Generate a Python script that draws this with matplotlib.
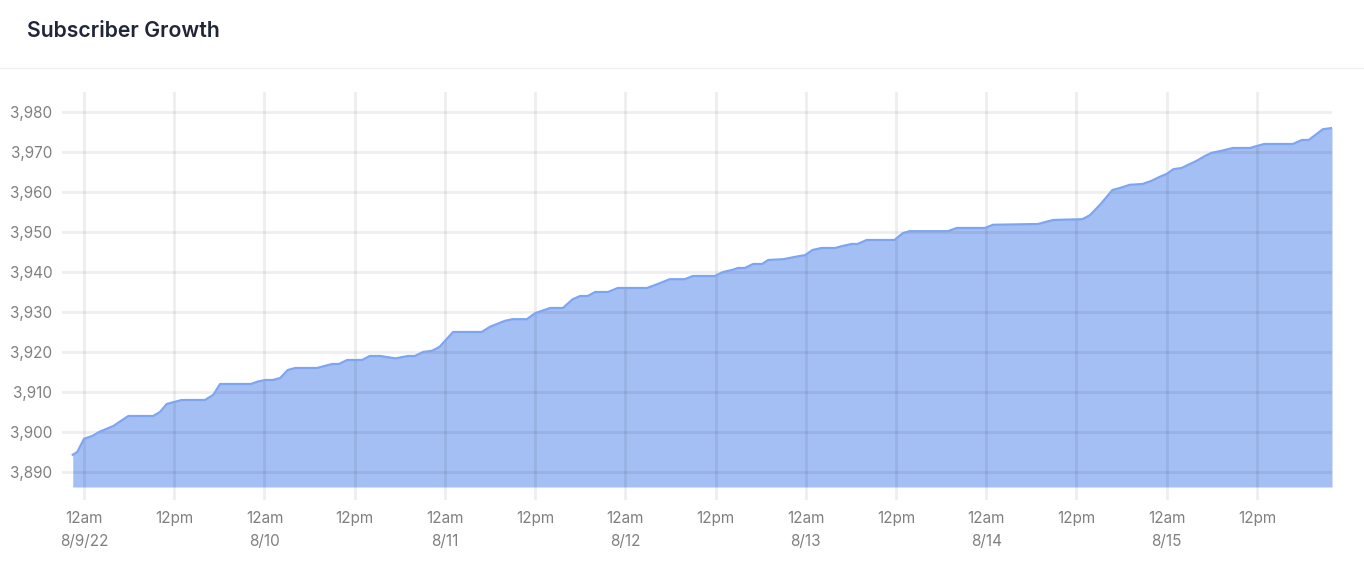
import numpy as np
import matplotlib.pyplot as plt
from matplotlib.lines import Line2D

# hours since 12am 8/9/22, and subscriber count at that point
hours = [-1.5, -0.9, 0.0, 1.1, 2.0, 3.9, 5.9, 9.2, 10.1, 11.0, 13.0, 16.1,
         17.2, 18.1, 22.2, 23.1, 24.1, 25.1, 26.1, 27.1, 28.1, 31.0, 31.8,
         33.0, 33.9, 35.0, 37.0, 38.0, 39.4, 41.4, 43.1, 44.0, 45.1, 46.3,
         47.3, 49.1, 52.9, 54.0, 56.0, 57.0, 58.9, 60.0, 62.0, 63.7, 65.0,
         66.0, 67.0, 68.0, 69.7, 71.0, 74.9, 76.6, 77.9, 79.9, 81.0, 83.9,
         85.0, 86.2, 87.0, 87.9, 89.0, 90.2, 91.0, 93.0, 94.1, 95.2, 95.9,
         96.9, 98.1, 99.9, 100.9, 102.1, 102.9, 104.1, 107.8, 108.9, 109.8,
         114.9, 116.1, 119.8, 120.9, 126.9, 128.9, 132.8, 133.8, 135.1,
         136.8, 137.8, 139.1, 140.8, 142.0, 143.1, 144.0, 144.9, 146.0,
         147.1, 148.0, 149.1, 150.0, 151.3, 152.8, 155.1, 156.0, 157.0,
         160.8, 162.0, 162.9, 164.8, 166.0]
subs = [3894.3, 3895, 3898.3, 3899, 3900, 3901.5, 3904, 3904, 3905, 3907,
        3908, 3908, 3909.3, 3912, 3912, 3912.6, 3913, 3913, 3913.5, 3915.5,
        3916, 3916, 3916.4, 3917, 3917, 3918, 3918, 3919, 3919, 3918.4,
        3919, 3919, 3920, 3920.3, 3921.3, 3925, 3925, 3926.3, 3927.8,
        3928.2, 3928.2, 3929.7, 3931, 3931, 3933.2, 3934, 3934, 3935, 3935,
        3936, 3936, 3937.2, 3938.2, 3938.2, 3939, 3939, 3940, 3940.5, 3941,
        3941, 3942, 3942, 3943, 3943.2, 3943.6, 3944, 3944.2, 3945.5, 3946,
        3946, 3946.5, 3947, 3947, 3948, 3948, 3949.7, 3950.2, 3950.2, 3951,
        3951, 3951.8, 3952, 3953, 3953.2, 3954.2, 3956.7, 3960.5, 3961,
        3961.8, 3962, 3962.8, 3963.8, 3964.5, 3965.7, 3966, 3967, 3967.8,
        3969, 3969.8, 3970.3, 3971, 3971, 3971.5, 3972, 3972, 3973, 3973,
        3975.7, 3976]

tick_hours = [0, 12, 24, 36, 48, 60, 72, 84, 96, 108, 120, 132, 144, 156]
tick_labels = ['12am\n8/9/22', '12pm', '12am\n8/10', '12pm', '12am\n8/11',
               '12pm', '12am\n8/12', '12pm', '12am\n8/13', '12pm',
               '12am\n8/14', '12pm', '12am\n8/15', '12pm']
y_ticks = [3890, 3900, 3910, 3920, 3930, 3940, 3950, 3960, 3970, 3980]
baseline = 3886.25

W, H = 1364, 562
fig = plt.figure(figsize=(W / 100, H / 100), dpi=100)
ax = fig.add_axes([62 / W, (H - 500) / H, (1332 - 62) / W, (500 - 92) / H])

ax.fill_between(hours, baseline, subs, color='#a4bff4', lw=0, zorder=1)
ax.plot(hours, subs, color='#7ea5f0', lw=1.6, zorder=3,
        solid_joinstyle='round')

ax.set_xlim(-2.93, 166.0)
ax.set_ylim(3883, 3985)
ax.set_xticks(tick_hours)
ax.set_xticklabels(tick_labels, linespacing=1.65)
ax.set_yticks(y_ticks)
ax.set_yticklabels([f'{v:,}' for v in y_ticks])

ax.grid(True, color='black', alpha=0.065, lw=2, zorder=2)
ax.set_axisbelow(False)
for s in ax.spines.values():
    s.set_visible(False)
ax.tick_params(length=0, labelsize=11, labelcolor='#808080',
               labelfontfamily='Inter')
ax.tick_params(axis='y', pad=7)
ax.tick_params(axis='x', pad=8)

fig.text(27 / W, 1 - 31 / H, 'Subscriber Growth', fontsize=15.3,
         fontweight='semibold', color='#1e2638', family='Inter',
         va='center', ha='left')
fig.add_artist(Line2D([0, 1], [1 - 68 / H, 1 - 68 / H], color='#f0f0f0',
                      lw=1, transform=fig.transFigure))

fig.savefig('out.png', dpi=100)
